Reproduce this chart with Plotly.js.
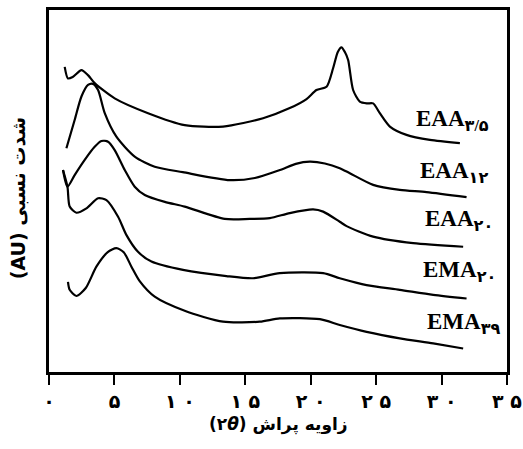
<!DOCTYPE html>
<html>
<head>
<meta charset="utf-8">
<script src="https://cdn.plot.ly/plotly-3.0.1.min.js"></script>
<style>html,body{margin:0;padding:0;background:#fff}#chart{width:523px;height:449px}</style>
</head>
<body>
<div id="chart"></div>
<script>
// 2θ (degrees) and relative intensity (AU, offset stacked)
const eaa35_x = [1.20,1.45,1.81,2.48,2.98,3.49,5.02,7.57,10.37,13.30,16.36,18.40,19.68,20.44,21.21,21.71,22.07,22.35,22.61,22.86,23.24,23.75,24.29,24.77,25.28,26.05,27.32,29.11,31.40];
const eaa35_y = [84.3,81.1,81.5,83.4,82.0,79.8,75.6,71.5,68.2,67.8,70.1,72.9,75.4,77.9,78.8,83.9,88.4,89.7,88.4,86.2,77.9,74.7,74.2,74.2,71.5,67.8,65.5,64.1,63.2];

const eaa12_x = [1.33,1.96,2.48,2.98,3.36,3.75,4.26,5.15,6.55,8.08,10.22,13.82,15.73,17.64,18.86,19.93,21.08,22.22,22.99,24.77,26.81,28.85,31.91];
const eaa12_y = [61.8,69.6,76.1,79.3,79.6,77.9,71.5,65.0,59.5,56.7,55.2,53.0,53.6,55.8,57.5,58.1,57.6,56.3,54.9,51.7,50.3,49.7,48.3];

const eaa20_x = [1.07,1.41,1.96,2.73,3.49,4.01,4.51,5.02,5.79,6.55,7.32,8.85,10.37,13.43,15.34,16.87,18.40,20.18,20.95,22.22,22.74,24.77,27.83,31.65];
const eaa20_y = [55.8,51.2,54.4,58.6,62.2,63.8,63.6,61.3,55.8,51.2,48.9,47.0,45.7,42.3,42.3,42.5,43.9,44.9,44.3,41.5,40.3,37.4,35.6,34.6];

const ema20_x = [1.07,1.41,1.58,2.09,2.86,3.75,4.39,5.28,5.92,6.80,7.83,10.24,13.56,15.60,17.64,20.95,22.22,24.27,26.81,29.36,31.91];
const ema20_y = [55.8,51.2,45.7,44.0,45.2,48.0,47.5,42.9,37.8,33.2,30.5,28.2,26.5,25.9,27.3,27.3,25.9,24.0,22.7,21.3,20.3];

const ema39_x = [1.45,1.58,2.09,2.81,3.62,4.49,5.15,5.71,6.30,6.93,8.08,10.37,13.30,16.11,17.64,20.70,22.22,24.27,26.81,29.36,31.65];
const ema39_y = [24.9,22.7,21.0,23.2,29.1,33.1,34.2,33.1,29.1,25.1,20.8,16.9,13.9,13.9,14.8,14.6,13.0,11.1,9.3,7.9,6.5];

const tickVals = [0,5,10,15,20,25,30,35];
const tickText = ['۰','۵','۱ ۰','۱ ۵','۲ ۰','۲ ۵','۳ ۰','۳ ۵'];

const seriesNames = ['EAA<sub>۳/۵</sub>','EAA<sub>۱۲</sub>','EAA<sub>۲۰</sub>','EMA<sub>۲۰</sub>','EMA<sub>۳۹</sub>'];
const xTitle = 'زاویه پراش (۲<i>θ</i>)';
const yTitle = 'شدت نسبی (AU)';

const series = [[eaa35_x,eaa35_y],[eaa12_x,eaa12_y],[eaa20_x,eaa20_y],[ema20_x,ema20_y],[ema39_x,ema39_y]];
const traces = series.map((s,i)=>({
  x:s[0], y:s[1], type:'scatter', mode:'lines', name:seriesNames[i],
  line:{color:'#000', width:2.2, shape:'spline', smoothing:0.7}, hoverinfo:'skip'
}));

const labelPos = [[27.9,69.6],[28.2,55.2],[28.6,41.9],[28.4,27.8],[28.7,13.4]];
const rle = '\u202B', pdf = '\u202C';
const annotations = seriesNames.map((n,i)=>({
  x:labelPos[i][0], y:labelPos[i][1], xref:'x', yref:'y', xanchor:'left', yanchor:'middle',
  text:n, showarrow:false, font:{family:'Liberation Serif, DejaVu Sans', size:23, color:'#000', weight:'bold'}
}));
annotations.push({
  x:0.5, y:0, xref:'paper', yref:'paper', yshift:-52, xanchor:'center', yanchor:'middle',
  text:rle+xTitle+pdf, showarrow:false, font:{family:'DejaVu Sans', size:17, color:'#000', weight:'bold'}
});
annotations.push({
  x:0, y:0.48, xref:'paper', yref:'paper', xshift:-31, xanchor:'center', yanchor:'middle', textangle:-90,
  text:rle+yTitle+pdf, showarrow:false, font:{family:'DejaVu Sans', size:19, color:'#000', weight:'bold'}
});

const layout = {
  width:523, height:449,
  margin:{l:49, r:16, t:10, b:77},
  paper_bgcolor:'#fff', plot_bgcolor:'#fff',
  showlegend:false,
  xaxis:{range:[0,35], tickvals:tickVals, ticktext:tickText, ticks:'outside', ticklen:10, tickwidth:2, tickcolor:'#000',
    showline:true, linewidth:3, linecolor:'#000', mirror:true, showgrid:false, zeroline:false,
    tickfont:{family:'DejaVu Sans', size:19, color:'#000', weight:'bold'}, fixedrange:true},
  yaxis:{range:[0,100], showticklabels:false, ticks:'', showline:true, linewidth:3, linecolor:'#000', mirror:true,
    showgrid:false, zeroline:false, fixedrange:true},
  annotations:annotations
};
Plotly.newPlot('chart', traces, layout, {displayModeBar:false, staticPlot:true});
</script>
</body>
</html>
